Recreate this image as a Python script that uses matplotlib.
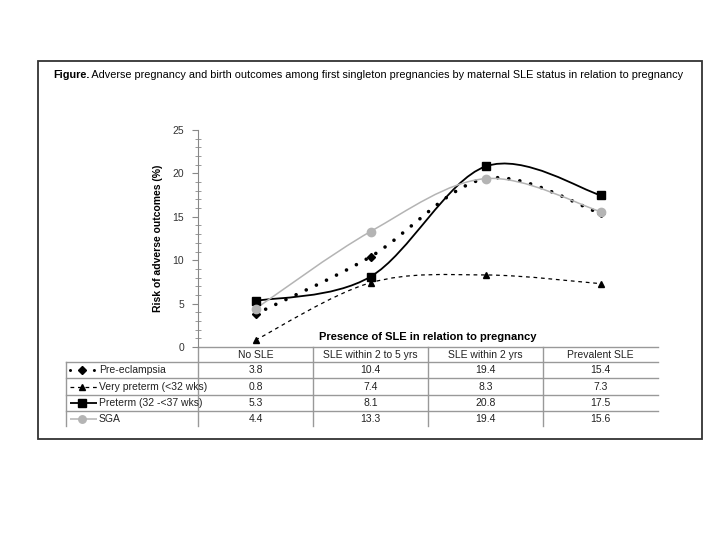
import numpy as np
import matplotlib
matplotlib.use('Agg')
import matplotlib.pyplot as plt
from matplotlib.path import Path
from matplotlib.patches import PathPatch, Rectangle

plt.rcParams['font.family'] = ['Liberation Sans', 'DejaVu Sans']

categories = ['No SLE', 'SLE within 2 to 5 yrs', 'SLE within 2 yrs', 'Prevalent SLE']
series_names = ['Pre-eclampsia', 'Very preterm (<32 wks)', 'Preterm (32 -<37 wks)', 'SGA']
pre_eclampsia = [3.8, 10.4, 19.4, 15.4]
very_preterm = [0.8, 7.4, 8.3, 7.3]
preterm = [5.3, 8.1, 20.8, 17.5]
sga = [4.4, 13.3, 19.4, 15.6]
title_bold = 'Figure.'
title_rest = ' Adverse pregnancy and birth outcomes among first singleton pregnancies by maternal SLE status in relation to pregnancy'


def smooth_path(xs, ys):
    # excel style smoothed line: cubic bezier through the points
    pts = np.column_stack([xs, ys]).astype(float)
    n = len(pts)
    verts = [pts[0]]
    codes = [Path.MOVETO]
    for i in range(n - 1):
        p0 = pts[max(i - 1, 0)]
        p1 = pts[i]
        p2 = pts[i + 1]
        p3 = pts[min(i + 2, n - 1)]
        verts += [p1 + (p2 - p0) / 6, p2 - (p3 - p1) / 6, p2]
        codes += [Path.CURVE4] * 3
    return Path(verts, codes)


fig = plt.figure(figsize=(7.2, 5.4), dpi=100)
ax = fig.add_axes([198 / 720, 193 / 540, 460 / 720, 217 / 540])

# outer frame
fig.patches.append(Rectangle((38 / 720, 1 - 439 / 540), 664 / 720, 378 / 540,
                             transform=fig.transFigure, fill=False,
                             edgecolor='#333333', linewidth=1.3))
t1 = fig.text(53 / 720, 1 - 75 / 540, title_bold, fontsize=7.8, fontweight='bold', va='center')
fig.canvas.draw()
bb = t1.get_window_extent()
fig.text(bb.x1 / 720, 1 - 75 / 540, title_rest, fontsize=7.8, va='center')

x = np.arange(len(categories))
styles = [
    dict(data=pre_eclampsia, color='black', marker='D', ms=4.2, ls=(0, (0.01, 3.1)), lw=2.6, cap='round'),
    dict(data=very_preterm, color='black', marker='^', ms=4.5, ls=(0, (3, 3)), lw=0.9, cap='butt'),
    dict(data=preterm, color='black', marker='s', ms=6, ls='-', lw=1.3, cap='butt'),
    dict(data=sga, color='#b4b4b4', marker='o', ms=6, ls='-', lw=1.1, cap='butt'),
]

for st in styles:
    patch = PathPatch(smooth_path(x, st['data']), fill=False, edgecolor=st['color'],
                      linewidth=st['lw'], linestyle=st['ls'], capstyle=st['cap'], zorder=2)
    ax.add_patch(patch)
    ax.plot(x, st['data'], linestyle='none', marker=st['marker'], ms=st['ms'],
            color=st['color'], zorder=3)

ax.set_xlim(-0.5, 3.5)
ax.set_ylim(0, 25)
ax.set_yticks(range(0, 26, 5))
ax.set_yticks(range(0, 26), minor=True)
ax.set_xticks([])
for s in ['top', 'right', 'bottom']:
    ax.spines[s].set_visible(False)
ax.spines['left'].set_color('#888888')
ax.tick_params(axis='y', which='major', direction='out', length=4, color='#888888',
               labelsize=7.5, labelcolor='#333333', pad=6)
ax.tick_params(axis='y', which='minor', direction='inout', length=5, color='#888888')
ax.set_ylabel('Risk of adverse outcomes (%)', fontsize=7.5, fontweight='bold')
ax.yaxis.set_label_coords(-0.076, 0.5)
ax.text(0.5, 0.047, 'Presence of SLE in relation to pregnancy', transform=ax.transAxes,
        ha='center', va='center', fontsize=8, fontweight='bold')

# data table under the axes
tr = ax.get_xaxis_transform()
px = lambda p: (p - 198) / 115 - 0.5
py = lambda p: (347 - p) / 217
gc = '#999999'
row_lines = [347, 362, 378, 395, 411]
ax.plot([-0.5, 3.5], [py(347)] * 2, transform=tr, color=gc, lw=1, clip_on=False)
for r in row_lines[1:]:
    ax.plot([px(66), 3.5], [py(r)] * 2, transform=tr, color=gc, lw=1, clip_on=False)
for c in [-0.5, 0.5, 1.5, 2.5]:
    ax.plot([c, c], [py(347), py(426)], transform=tr, color=gc, lw=1, clip_on=False)
ax.plot([px(66)] * 2, [py(362), py(426)], transform=tr, color=gc, lw=1, clip_on=False)

for i, cat in enumerate(categories):
    ax.text(i, py(354.5), cat, transform=tr, ha='center', va='center', fontsize=7.5, color='#222222')

row_centers = [370, 386.5, 403, 418.5]
for r, (name, st) in enumerate(zip(series_names, styles)):
    yy = py(row_centers[r])
    kp = PathPatch(Path([(px(70), yy), (px(97), yy)]), transform=tr, fill=False,
                   edgecolor=st['color'], linewidth=st['lw'], linestyle=st['ls'],
                   capstyle=st['cap'], clip_on=False)
    if r == 0:
        kp.set_linewidth(2.2)
        kp.set_linestyle((0, (0.01, 3.9)))
    ax.add_patch(kp)
    ax.plot([px(82)], [yy], transform=tr, marker=st['marker'], ms=st['ms'] * 0.9,
            color=st['color'], clip_on=False)
    ax.text(px(99), yy, name, transform=tr, ha='left', va='center', fontsize=7.5, color='#222222')
    for i, v in enumerate(st['data']):
        ax.text(i, yy, f'{v:.1f}', transform=tr, ha='center', va='center',
                fontsize=7.5, color='#222222')

fig.savefig('out.png', dpi=100)
